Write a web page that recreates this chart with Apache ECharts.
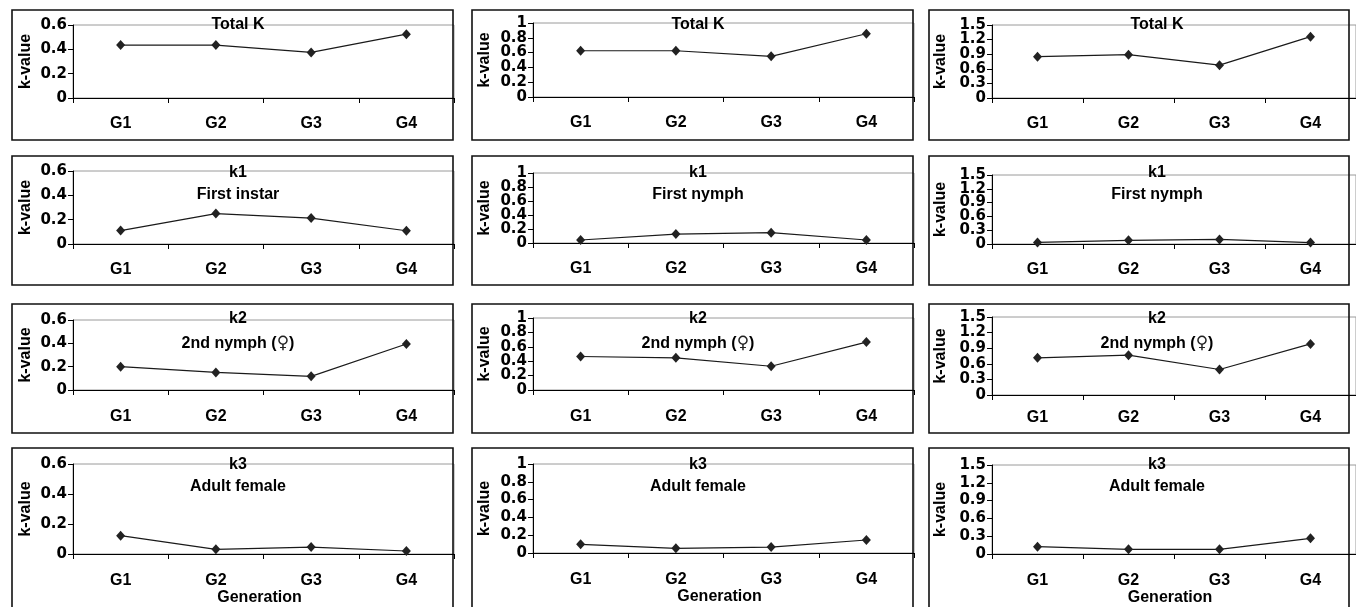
<!DOCTYPE html>
<html>
<head>
<meta charset="utf-8">
<script src="https://cdn.jsdelivr.net/npm/echarts@6/dist/echarts.min.js"></script>
<style>
html,body{margin:0;padding:0;background:#fff;}
#c{width:1356px;height:607px;}
</style>
</head>
<body>
<div id="c"></div>
<script>
// ---- data ----
const categories = ['G1', 'G2', 'G3', 'G4'];
const totalK_A = [0.435, 0.435, 0.375, 0.525];
const totalK_B = [0.625, 0.625, 0.55, 0.855];
const totalK_C = [0.85, 0.89, 0.675, 1.26];
const k1_A = [0.11, 0.25, 0.213, 0.109];
const k1_B = [0.043, 0.128, 0.148, 0.043];
const k1_C = [0.035, 0.08, 0.1, 0.03];
const k2_A = [0.2, 0.151, 0.117, 0.394];
const k2_B = [0.465, 0.447, 0.33, 0.665];
const k2_C = [0.715, 0.766, 0.49, 0.983];
const k3_A = [0.122, 0.031, 0.046, 0.02];
const k3_B = [0.097, 0.052, 0.067, 0.146];
const k3_C = [0.124, 0.079, 0.079, 0.264];
const yMax = [0.6, 1, 1.5];
const yInterval = [0.2, 0.2, 0.3];
const rowTitles = ['Total K', 'k1', 'k2', 'k3'];
const rowSubtitles = [
  ['', '', ''],
  ['First instar', 'First nymph', 'First nymph'],
  ['2nd nymph (\u2640)', '2nd nymph (\u2640)', '2nd nymph (\u2640)'],
  ['Adult female', 'Adult female', 'Adult female']
];
const yAxisName = 'k-value';
const xAxisName = 'Generation';
const panelData = [
  [totalK_A, totalK_B, totalK_C],
  [k1_A, k1_B, k1_C],
  [k2_A, k2_B, k2_C],
  [k3_A, k3_B, k3_C]
];

// ---- layout ----
const colLeft = [73, 533, 992];
const plotW = 381;
const plotTop = [[25, 23, 25], [171, 173, 175], [320, 318, 317], [464, 464, 465]];
const plotBottom = [[98, 97, 98], [244, 243, 244], [390, 390, 395], [554, 553, 554]];
const nameGapY = [39, 40, 43];
const labelMargin = [[18, 18, 18], [18, 18, 18], [19, 19, 15], [19, 19, 19]];
const boxX = [12, 472, 929];
const boxW = [441, 441, 420];
const boxY = [10, 156, 304, 448];
const boxH = [130, 129, 129, 175];
const titleY = [25, 173, 319, 465];
const subY = [null, 195, 344, 487];

const FONT = '"Liberation Sans", Arial, "DejaVu Sans", sans-serif';
const NUMFONT = '"DejaVu Sans", Verdana, sans-serif';
const fmtNum = v => String(Math.round(v * 10) / 10);
const grids = [], xAxes = [], yAxes = [], series = [], graphics = [];
let idx = 0;
for (let r = 0; r < 4; r++) {
  for (let c = 0; c < 3; c++) {
    const top = plotTop[r][c];
    const h = plotBottom[r][c] - top;
    grids.push({
      left: colLeft[c], top: top, width: plotW, height: h,
      show: true, borderColor: '#9a9a9a', borderWidth: 1,
      backgroundColor: 'transparent', containLabel: false
    });
    xAxes.push({
      type: 'category', gridIndex: idx, data: categories,
      boundaryGap: true,
      axisLine: { lineStyle: { color: '#000', width: 1 } },
      axisTick: { show: true, length: 5, inside: false, lineStyle: { color: '#000' } },
      axisLabel: { color: '#000', fontFamily: FONT, fontWeight: 'bold', fontSize: 16, margin: labelMargin[r][c] },
      splitLine: { show: false },
      name: r === 3 ? xAxisName : '',
      nameLocation: 'middle', nameGap: 33,
      nameTextStyle: { color: '#000', fontFamily: FONT, fontWeight: 'bold', fontSize: 16, padding: [0, 8, 0, 0] }
    });
    const labelStyle = {
      color: '#000', fontFamily: NUMFONT, fontWeight: 'bold', fontSize: 15, margin: 6,
      showMinLabel: true, showMaxLabel: true, hideOverlap: false
    };
    // main y axis: line, ticks, name and even-indexed labels
    yAxes.push({
      type: 'value', gridIndex: idx, min: 0, max: yMax[c], interval: yInterval[c],
      axisLine: { show: true, lineStyle: { color: '#000', width: 1 } },
      axisTick: { show: true, length: 5, inside: false, lineStyle: { color: '#000' } },
      axisLabel: Object.assign({}, labelStyle, {
        formatter: (v) => (Math.round(v / yInterval[c]) % 2 === 0 ? fmtNum(v) : '')
      }),
      splitLine: { show: false },
      name: yAxisName, nameLocation: 'middle', nameGap: nameGapY[c], nameRotate: 90,
      nameTextStyle: { color: '#000', fontFamily: FONT, fontWeight: 'bold', fontSize: 16 }
    });
    // companion y axis at the same place: odd-indexed labels only
    yAxes.push({
      type: 'value', gridIndex: idx, position: 'left', offset: 0,
      min: 0, max: yMax[c], interval: yInterval[c],
      axisLine: { show: false }, axisTick: { show: false }, splitLine: { show: false },
      axisLabel: Object.assign({}, labelStyle, {
        formatter: (v) => (Math.round(v / yInterval[c]) % 2 === 1 ? fmtNum(v) : '')
      })
    });
    series.push({
      type: 'line', xAxisIndex: idx, yAxisIndex: idx * 2, data: panelData[r][c],
      symbol: 'diamond', symbolSize: [9, 10], showSymbol: true,
      lineStyle: { color: '#1a1a1a', width: 1.2 },
      itemStyle: { color: '#222' },
      animation: false, z: 5
    });
    // panel border box
    graphics.push({
      type: 'rect', shape: { x: boxX[c], y: boxY[r], width: boxW[c], height: boxH[r] },
      style: { fill: 'none', stroke: '#111', lineWidth: 1.6 }, z: 0, silent: true
    });
    const cx = colLeft[c] + 165;
    graphics.push({
      type: 'text', x: cx, y: titleY[r], z: 10, silent: true,
      style: { text: rowTitles[r], textAlign: 'center', textVerticalAlign: 'middle',
        font: 'bold 16px ' + FONT, fill: '#000' }
    });
    if (subY[r] !== null) {
      const sub = rowSubtitles[r][c].replace('\u2640', '{s|\u2640}');
      graphics.push({
        type: 'text', x: cx, y: subY[r], z: 10, silent: true,
        style: { text: sub, textAlign: 'center', textVerticalAlign: 'middle',
          font: 'bold 16px ' + FONT, fill: '#000',
          rich: { s: { fontFamily: '"DejaVu Sans"', fontSize: 17, fontWeight: 'normal', fill: '#222' } } }
      });
    }
    idx++;
  }
}

const chart = echarts.init(document.getElementById('c'), null, { renderer: 'canvas' });
chart.setOption({
  animation: false,
  backgroundColor: '#fff',
  grid: grids, xAxis: xAxes, yAxis: yAxes, series: series,
  graphic: { elements: graphics }
});
</script>
</body>
</html>
